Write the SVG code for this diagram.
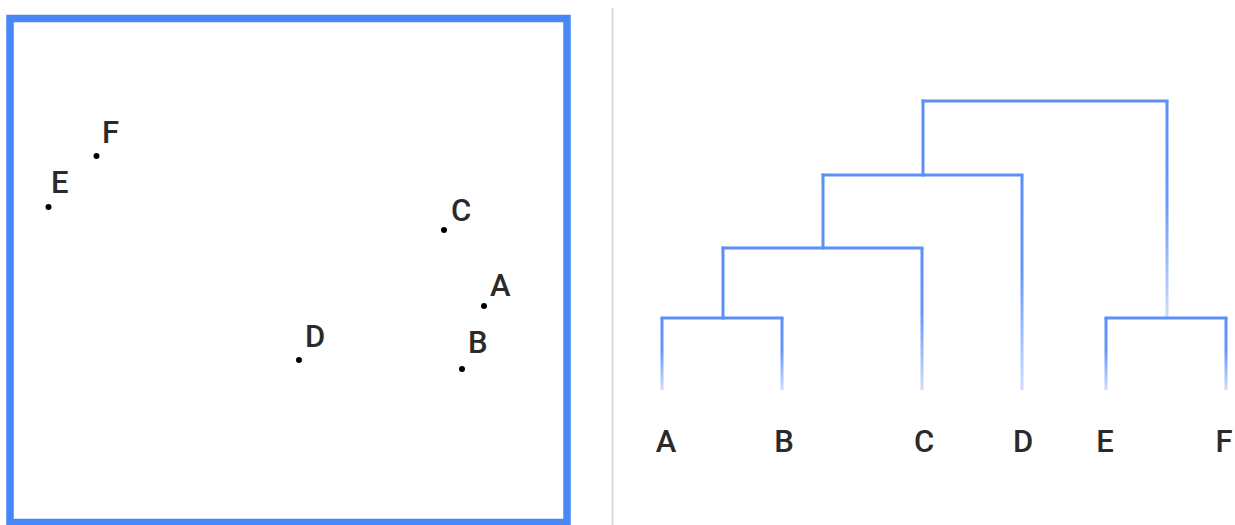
<svg xmlns="http://www.w3.org/2000/svg" width="1235" height="525" viewBox="0 0 1235 525">
  <style>
    .label { font-family: Roboto, "Liberation Sans", Arial, sans-serif; font-size: 31px; font-weight: 500; fill: #2a2a2a; }
    .leaf { text-anchor: middle; }
    .pt { fill: #000; }
    .hbar { stroke: #5d90f7; stroke-width: 3; fill: none; stroke-linecap: square; }
    .vbar { fill: url(#fade); }
  </style>
  <defs>
    <!-- vertical branches fade out towards the bottom -->
    <linearGradient id="fade" x1="0" y1="0" x2="0" y2="1">
      <stop offset="0" stop-color="#5d90f7" stop-opacity="1"/>
      <stop offset="0.45" stop-color="#5d90f7" stop-opacity="0.95"/>
      <stop offset="1" stop-color="#5d90f7" stop-opacity="0.3"/>
    </linearGradient>
  </defs>

  <rect width="1235" height="525" fill="#fff"/>

  <!-- scatter plot frame -->
  <rect id="frame" x="10" y="18.5" width="557" height="504" fill="none" stroke="#4787f7" stroke-width="7.5"/>

  <!-- panel divider -->
  <line id="divider" x1="612.5" y1="8" x2="612.5" y2="525" stroke="#dcdcdc" stroke-width="2"/>

  <!-- scatter points -->
  <g id="point-A"><circle class="pt" cx="484" cy="306" r="3"/><text class="label" x="490" y="296">A</text></g>
  <g id="point-B"><circle class="pt" cx="462" cy="369" r="3"/><text class="label" x="468" y="353">B</text></g>
  <g id="point-C"><circle class="pt" cx="444" cy="230" r="3"/><text class="label" x="451" y="221">C</text></g>
  <g id="point-D"><circle class="pt" cx="299" cy="360" r="3"/><text class="label" x="305" y="347">D</text></g>
  <g id="point-E"><circle class="pt" cx="48.5" cy="207" r="3"/><text class="label" x="51" y="193">E</text></g>
  <g id="point-F"><circle class="pt" cx="96.5" cy="156" r="3"/><text class="label" x="102" y="143">F</text></g>

  <!-- dendrogram branches -->
  <g id="connectors">
    <!-- horizontal merges -->
    <line class="hbar" x1="662" y1="318" x2="782" y2="318"/>
    <line class="hbar" x1="723" y1="248" x2="922" y2="248"/>
    <line class="hbar" x1="823" y1="175" x2="1022" y2="175"/>
    <line class="hbar" x1="923" y1="101" x2="1167" y2="101"/>
    <line class="hbar" x1="1106" y1="318" x2="1226" y2="318"/>
    <!-- vertical links (rects so the gradient has a box) -->
    <rect class="vbar" x="660.5" y="318" width="3" height="72"/>
    <rect class="vbar" x="780.5" y="318" width="3" height="72"/>
    <rect class="vbar" x="1104.5" y="318" width="3" height="72"/>
    <rect class="vbar" x="1224.5" y="318" width="3" height="72"/>
    <rect class="vbar" x="920.5" y="248" width="3" height="142"/>
    <rect class="vbar" x="1020.5" y="175" width="3" height="215"/>
    <rect class="vbar" x="1165.5" y="101" width="3" height="217"/>
    <line class="hbar" x1="723" y1="248" x2="723" y2="318"/>
    <line class="hbar" x1="823" y1="175" x2="823" y2="248"/>
    <line class="hbar" x1="923" y1="101" x2="923" y2="175"/>
  </g>

  <!-- leaf labels -->
  <g id="leaf-A"><text class="label leaf" x="666" y="452">A</text></g>
  <g id="leaf-B"><text class="label leaf" x="784" y="452">B</text></g>
  <g id="leaf-C"><text class="label leaf" x="924" y="452">C</text></g>
  <g id="leaf-D"><text class="label leaf" x="1023" y="452">D</text></g>
  <g id="leaf-E"><text class="label leaf" x="1105" y="452">E</text></g>
  <g id="leaf-F"><text class="label leaf" x="1224" y="452">F</text></g>
</svg>
